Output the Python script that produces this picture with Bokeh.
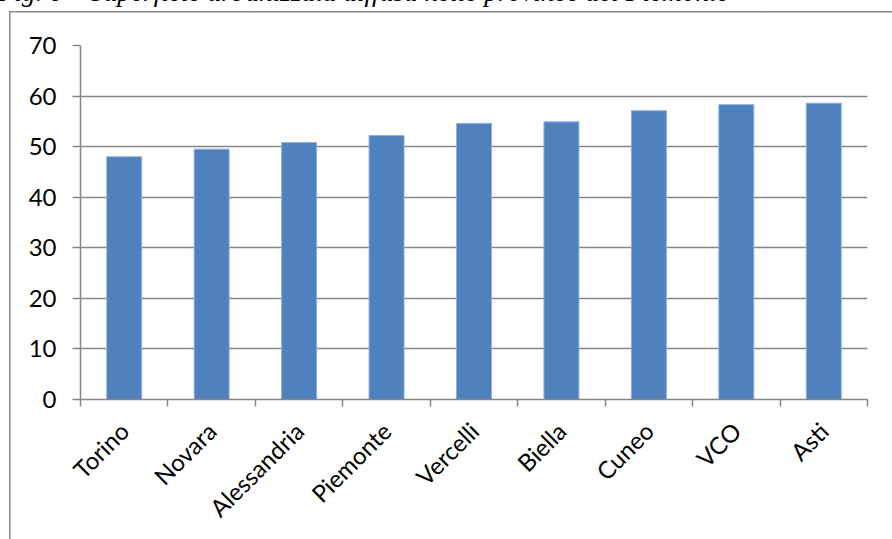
from bokeh.plotting import figure
from bokeh.models import FixedTicker, ColumnDataSource, Range1d
from bokeh.embed import file_html
from bokeh.resources import INLINE

# Superficie urbanizzata diffusa (%) per provincia
provinces = ["Torino", "Novara", "Alessandria", "Piemonte", "Vercelli",
             "Biella", "Cuneo", "VCO", "Asti"]
values = [48.0, 49.5, 50.8, 52.2, 54.6, 54.9, 57.1, 58.3, 58.6]
y_ticks = [0, 10, 20, 30, 40, 50, 60, 70]
title_text = "Fig. 6 \u2013 Superficie urbanizzata diffusa nelle province del Piemonte"

W, H = 892, 539
SHIFT = 80          # canvas rows that sit above the top of the page
LEFT, RIGHT, TOP, BOTTOM = 80, 25, 45 + SHIFT, 140
centers = [i + 0.5 for i in range(len(provinces))]
src = ColumnDataSource(dict(x=centers, top=values, name=provinces))

border_col = "#8c8c8c"
p = figure(width=W, height=H + SHIFT, output_backend="svg", toolbar_location=None,
           x_range=Range1d(0, len(provinces)), y_range=Range1d(0, 70),
           min_border_left=LEFT, min_border_right=RIGHT, min_border_top=TOP,
           min_border_bottom=BOTTOM)
p.outline_line_color = None
p.background_fill_color = "white"
p.border_fill_color = None
# chart-area border: left and top edges, running off the page
p.styles = {
    "margin-top": f"-{SHIFT}px",
    "background-color": "white",
    "background-image": f"linear-gradient({border_col}, {border_col}), "
                        f"linear-gradient({border_col}, {border_col})",
    "background-size": "1.5px 100%, 100% 1.5px",
    "background-position": f"9px {11 + SHIFT}px, 9px {11 + SHIFT}px",
    "background-repeat": "no-repeat",
}

# caption, partly running off the top of the page
p.title.text = title_text
p.title.text_font = "Liberation Serif"
p.title.text_font_style = "italic"
p.title.text_font_size = "27.3px"
p.title.text_color = "black"
p.title.align = "left"
p.title.offset = -3 - LEFT
p.title.standoff = 78

p.vbar(x="x", top="top", width=0.4, source=src,
       fill_color="#4F81BD", line_color="#8FAFD8", line_width=1)

grid_color = "#868686"
p.xgrid.grid_line_color = None
p.ygrid.ticker = FixedTicker(ticks=y_ticks)
p.ygrid.grid_line_color = grid_color
p.ygrid.grid_line_width = 1.5

# y axis
p.yaxis.ticker = FixedTicker(ticks=y_ticks)
p.yaxis.axis_line_color = grid_color
p.yaxis.axis_line_width = 1.5
p.yaxis.major_tick_line_color = grid_color
p.yaxis.major_tick_line_width = 1.5
p.yaxis.major_tick_out = 8
p.yaxis.major_tick_in = 0
p.yaxis.minor_tick_line_color = None
p.yaxis.major_label_standoff = 16
p.yaxis.major_label_text_font = "Lato"
p.yaxis.major_label_text_font_size = "24px"
p.yaxis.major_label_text_color = "black"

# x axis: labels at category centres, tick marks at category boundaries
p.xaxis.ticker = FixedTicker(ticks=centers,
                             minor_ticks=list(range(len(provinces) + 1)))
p.xaxis.major_label_overrides = {c: n for c, n in zip(centers, provinces)}
p.xaxis.major_label_orientation = 0.785398
p.xaxis.axis_line_color = grid_color
p.xaxis.axis_line_width = 1.5
p.xaxis.major_tick_line_color = None
p.xaxis.major_tick_out = 0
p.xaxis.minor_tick_line_color = grid_color
p.xaxis.minor_tick_line_width = 1.5
p.xaxis.minor_tick_out = 7
p.xaxis.minor_tick_in = 0
p.xaxis.major_label_standoff = 20
p.xaxis.major_label_text_font = "Lato"
p.xaxis.major_label_text_font_size = "24px"
p.xaxis.major_label_text_color = "black"

open("out.html", "w").write(file_html(p, INLINE))
